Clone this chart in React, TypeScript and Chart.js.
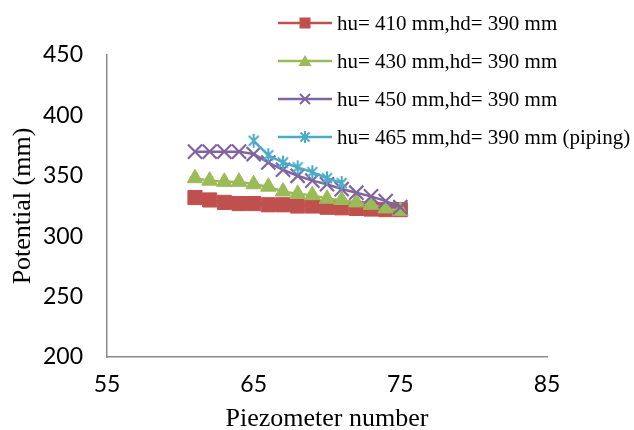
import React, { useEffect, useRef } from "react";
import { Chart, registerables } from "chart.js";

Chart.register(...registerables);

// ---- data ----
const piezometerNumbers = [61, 62, 63, 64, 65, 66, 67, 68, 69, 70, 71, 72, 73, 74, 75];
const potential410 = [332, 330, 328, 327, 327, 326, 326, 325, 325, 324, 323.5, 323, 322.5, 322, 322];
const potential430 = [348, 346, 345, 345, 343, 341, 337, 335, 334, 331, 330, 328, 326, 323, 321];
const potential450 = [370, 370, 370, 370, 368, 361, 355, 350, 346, 343, 339, 336, 333, 329, 324];
const pipingPiezometerNumbers = [65, 66, 67, 68, 69, 70, 71];
const potential465 = [379, 367, 361, 357, 353, 348, 344];
const seriesLabels = [
  "hu= 410 mm,hd= 390 mm",
  "hu= 430 mm,hd= 390 mm",
  "hu= 450 mm,hd= 390 mm",
  "hu= 465 mm,hd= 390 mm (piping)",
];
const xTickValues = [55, 65, 75, 85];
const yTickValues = [200, 250, 300, 350, 400, 450];
const xTitle = "Piezometer number";
const yTitle = "Potential (mm)";

// ---- styles ----
const RED = "#C0504D";
const GREEN = "#9BBB59";
const PURPLE = "#8064A2";
const CYAN = "#4BACC6";
const COLORS = [RED, GREEN, PURPLE, CYAN];
const MARKERS = ["square", "triangle", "cross", "star"];

function makeStar(color: string, size: number, lw: number) {
  const c = document.createElement("canvas");
  c.width = size;
  c.height = size;
  const ctx = c.getContext("2d")!;
  ctx.strokeStyle = color;
  ctx.lineWidth = lw;
  ctx.lineCap = "butt";
  const m = size / 2;
  const r = size / 2 - 1;
  const d = r * Math.SQRT1_2;
  ctx.beginPath();
  ctx.moveTo(m, m - r);
  ctx.lineTo(m, m + r);
  ctx.moveTo(m - d, m - d);
  ctx.lineTo(m + d, m + d);
  ctx.moveTo(m + d, m - d);
  ctx.lineTo(m - d, m + d);
  ctx.stroke();
  return c;
}

function pts(xs: number[], ys: number[]) {
  return xs.map((x, i) => ({ x, y: ys[i] }));
}

function LegendMarker({ kind, color }: { kind: string; color: string }) {
  const cx = 27;
  const cy = 12;
  let marker: React.ReactNode = null;
  if (kind === "square") {
    marker = <rect x={cx - 5.5} y={cy - 5.5} width={11} height={11} fill={color} />;
  } else if (kind === "triangle") {
    marker = (
      <polygon
        points={`${cx},${cy - 6} ${cx + 6.5},${cy + 5} ${cx - 6.5},${cy + 5}`}
        fill={color}
      />
    );
  } else if (kind === "cross") {
    marker = (
      <path
        d={`M${cx - 5},${cy - 5} L${cx + 5},${cy + 5} M${cx + 5},${cy - 5} L${cx - 5},${cy + 5}`}
        stroke={color}
        strokeWidth={2}
      />
    );
  } else {
    marker = (
      <path
        d={`M${cx},${cy - 6} L${cx},${cy + 6} M${cx - 4.5},${cy - 4.5} L${cx + 4.5},${cy + 4.5} M${cx + 4.5},${cy - 4.5} L${cx - 4.5},${cy + 4.5}`}
        stroke={color}
        strokeWidth={2}
      />
    );
  }
  return (
    <svg width={54} height={24} style={{ display: "block" }}>
      <line x1={0} y1={cy} x2={54} y2={cy} stroke={color} strokeWidth={2.5} />
      {marker}
    </svg>
  );
}

export default function App() {
  const canvasRef = useRef<HTMLCanvasElement | null>(null);

  useEffect(() => {
    const canvas = canvasRef.current;
    if (!canvas) return;
    const star = makeStar(CYAN, 16, 2);
    const chart = new Chart(canvas, {
      type: "line",
      data: {
        datasets: [
          {
            label: seriesLabels[0],
            data: pts(piezometerNumbers, potential410),
            borderColor: RED,
            backgroundColor: RED,
            borderWidth: 2.5,
            pointStyle: "rect",
            pointRadius: 10,
            pointBorderWidth: 1,
            pointBackgroundColor: RED,
            pointBorderColor: RED,
            order: 4,
          },
          {
            label: seriesLabels[1],
            data: pts(piezometerNumbers, potential430),
            borderColor: GREEN,
            backgroundColor: GREEN,
            borderWidth: 2.5,
            pointStyle: "triangle",
            pointRadius: 9,
            pointBorderWidth: 1,
            pointBackgroundColor: GREEN,
            pointBorderColor: GREEN,
            order: 3,
          },
          {
            label: seriesLabels[2],
            data: pts(piezometerNumbers, potential450),
            borderColor: PURPLE,
            backgroundColor: PURPLE,
            borderWidth: 2.5,
            pointStyle: "crossRot",
            pointRadius: 10,
            pointBorderWidth: 2.2,
            pointBackgroundColor: PURPLE,
            pointBorderColor: PURPLE,
            order: 2,
          },
          {
            label: seriesLabels[3],
            data: pts(pipingPiezometerNumbers, potential465),
            borderColor: CYAN,
            backgroundColor: CYAN,
            borderWidth: 2.5,
            pointStyle: star as any,
            pointRadius: 8,
            pointBackgroundColor: CYAN,
            pointBorderColor: CYAN,
            order: 1,
          },
        ],
      },
      options: {
        responsive: false,
        animation: false,
        devicePixelRatio: 1,
        layout: { padding: { left: 0, top: 55, right: 87, bottom: 0 } },
        plugins: {
          legend: { display: false },
          tooltip: { enabled: false },
        },
        scales: {
          x: {
            type: "linear",
            min: 55,
            max: 85,
            afterBuildTicks: (s: any) => {
              s.ticks = xTickValues.map((v) => ({ value: v }));
            },
            afterFit: (s: any) => {
              s.height = 73;
            },
            grid: { display: false, drawTicks: false },
            border: { display: true, color: "#898989", width: 1.5 },
            ticks: {
              padding: 14,
              color: "#000",
              font: { family: "Lato", size: 23 },
              maxRotation: 0,
            },
            title: {
              display: true,
              text: xTitle,
              color: "#000",
              font: { family: "Liberation Serif", size: 26, lineHeight: 1 },
              padding: { top: 0, bottom: -2 },
            },
          },
          y: {
            type: "linear",
            min: 200,
            max: 450,
            afterBuildTicks: (s: any) => {
              s.ticks = yTickValues.map((v) => ({ value: v }));
            },
            afterFit: (s: any) => {
              s.width = 107;
            },
            grid: { display: false, drawTicks: false },
            border: { display: true, color: "#898989", width: 1.5 },
            ticks: {
              padding: 24,
              color: "#000",
              font: { family: "Lato", size: 23 },
            },
            title: {
              display: true,
              text: yTitle,
              color: "#000",
              font: { family: "Liberation Serif", size: 26, lineHeight: 1 },
              padding: { top: 10, bottom: 0 },
            },
          },
        },
      },
    });
    return () => chart.destroy();
  }, []);

  return (
    <div
      style={{
        position: "absolute",
        left: 0,
        top: 0,
        width: 634,
        height: 430,
        background: "#fff",
        overflow: "hidden",
      }}
    >
      <canvas ref={canvasRef} width={634} height={430} style={{ display: "block" }} />
      {seriesLabels.map((label, i) => (
        <div
          key={label}
          style={{
            position: "absolute",
            left: 278,
            top: 23.3 + 37.8 * i - 12,
            height: 24,
            display: "flex",
            alignItems: "center",
            whiteSpace: "nowrap",
          }}
        >
          <LegendMarker kind={MARKERS[i]} color={COLORS[i]} />
          <span
            style={{
              marginLeft: 5,
              fontFamily: '"Liberation Serif", serif',
              fontSize: 21,
              lineHeight: "24px",
              color: "#000",
            }}
          >
            {label}
          </span>
        </div>
      ))}
    </div>
  );
}
